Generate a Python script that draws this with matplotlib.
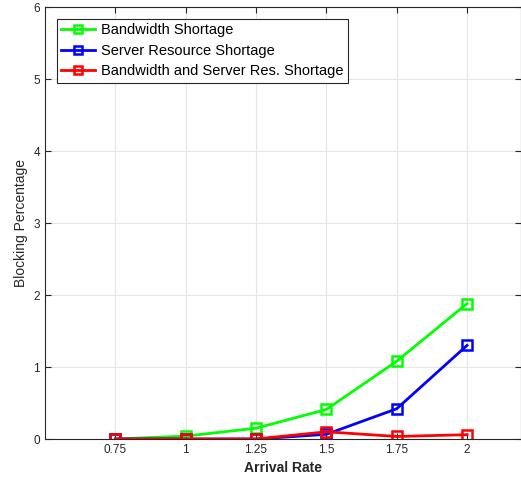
import matplotlib
matplotlib.use("Agg")
import matplotlib.pyplot as plt

arrival = [0.75, 1, 1.25, 1.5, 1.75, 2]
bandwidth = [0.0, 0.04, 0.15, 0.41, 1.08, 1.88]
server = [0.0, 0.0, 0.0, 0.065, 0.42, 1.30]
both = [0.0, 0.0, 0.0, 0.10, 0.035, 0.06]
xtick_labels = ["0.75", "1", "1.25", "1.5", "1.75", "2"]

plt.rcParams['font.family'] = ['Liberation Sans', 'DejaVu Sans']
fig = plt.figure(figsize=(5.21, 4.84), dpi=100)
ax = fig.add_axes([45/521, 1-439/484, (520.5-45)/521, (439-7)/484])

kw = dict(lw=2, marker='s', ms=6.5, mfc='none', mew=1.8)
ax.plot(arrival, bandwidth, color='#00ff00', label='Bandwidth Shortage', **kw)
ax.plot(arrival, server, color='#0000ff', label='Server Resource Shortage', **kw)
ax.plot(arrival, both, color='#ff0000', label='Bandwidth and Server Res. Shortage', **kw)

ax.set_xlim(0.5, 2.19)
ax.set_ylim(0, 6)
ax.set_xticks(arrival)
ax.set_xticklabels(xtick_labels)
ax.set_yticks(range(0, 7))
ax.grid(True, color='#e6e6e6', lw=0.8)
ax.set_axisbelow(True)
ax.tick_params(direction='in', top=True, right=True, labelsize=8.5, colors='#262626', length=4)
for s in ax.spines.values():
    s.set_color('#262626')
    s.set_linewidth(0.8)
ax.set_xlabel('Arrival Rate', fontsize=10, fontweight='bold', color='#262626')
ax.set_ylabel('Blocking Percentage', fontsize=10, color='#262626')
leg = ax.legend(loc='upper left', bbox_to_anchor=(12/475, 1-12/432), fontsize=10.5,
                fancybox=False, framealpha=1, edgecolor='#262626', borderaxespad=0,
                handlelength=2.3, handletextpad=0.4, labelspacing=0.45, borderpad=0.3,
                markerscale=0.8)
leg.get_frame().set_linewidth(0.8)
fig.savefig('out.png', dpi=100)
